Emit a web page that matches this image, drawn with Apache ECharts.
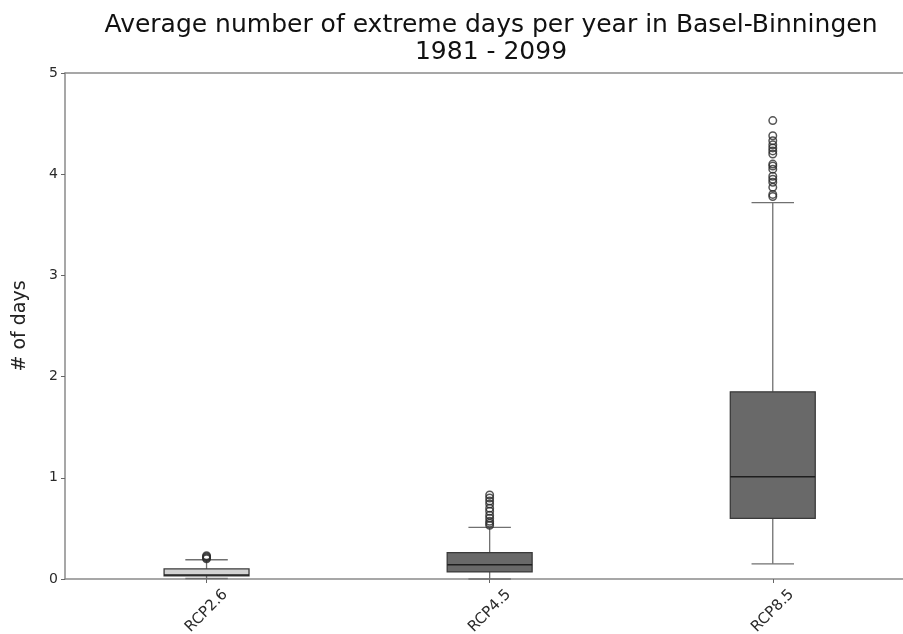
<!DOCTYPE html>
<html>
<head>
<meta charset="utf-8">
<script src="https://cdn.jsdelivr.net/npm/echarts@6/dist/echarts.min.js"></script>
<style>
  html, body { margin: 0; padding: 0; background: #fff; }
  #main { width: 903px; height: 634px; }
</style>
</head>
<body>
<div id="main"></div>
<script>
var myChart = echarts.init(document.getElementById('main'));

// scenarios on the x axis (positions 1, 2, 3)
const scenarios = ['RCP2.6', 'RCP4.5', 'RCP8.5'];
const positions = [1, 2, 3];

// box stats per scenario: [lower whisker, Q1, median, Q3, upper whisker]
const boxStats = [
    [0.005, 0.03, 0.04, 0.10, 0.19],
    [0.0, 0.07, 0.14, 0.26, 0.51],
    [0.15, 0.60, 1.01, 1.85, 3.72]
];

// outliers (fliers) per scenario
const outliers26 = [0.20, 0.21, 0.22, 0.23];
const outliers45 = [0.53, 0.55, 0.57, 0.60, 0.63, 0.67, 0.70, 0.74, 0.77, 0.80, 0.83];
const outliers85 = [3.78, 3.80, 3.87, 3.92, 3.95, 3.98, 4.05, 4.08, 4.10, 4.20, 4.23, 4.26, 4.29, 4.33, 4.38, 4.53];

const boxColors = ['#d3d3d3', '#696969', '#696969'];

const yTicks = [0, 1, 2, 3, 4, 5];

const boxData = boxStats.map(function (s, i) {
    return [positions[i]].concat(s);
});

const flierData = [];
[outliers26, outliers45, outliers85].forEach(function (arr, i) {
    arr.forEach(function (v) { flierData.push([positions[i], v]); });
});

function renderBox(params, api) {
    const pos = api.value(0);
    const low = api.coord([pos, api.value(1)]);
    const q1 = api.coord([pos, api.value(2)]);
    const med = api.coord([pos, api.value(3)]);
    const q3 = api.coord([pos, api.value(4)]);
    const high = api.coord([pos, api.value(5)]);
    const half = api.size([1, 0])[0] * 0.15;
    const cap = half / 2;
    const x = low[0];
    const whisker = { stroke: '#707070', lineWidth: 1.3 };
    return {
        type: 'group',
        children: [
            { type: 'line', shape: { x1: x, y1: q1[1], x2: x, y2: low[1] }, style: whisker },
            { type: 'line', shape: { x1: x, y1: q3[1], x2: x, y2: high[1] }, style: whisker },
            { type: 'line', shape: { x1: x - cap, y1: low[1], x2: x + cap, y2: low[1] }, style: whisker },
            { type: 'line', shape: { x1: x - cap, y1: high[1], x2: x + cap, y2: high[1] }, style: whisker },
            {
                type: 'rect',
                shape: { x: x - half, y: q3[1], width: half * 2, height: q1[1] - q3[1] },
                style: { fill: boxColors[pos - 1], stroke: '#3a3a3a', lineWidth: 1.3 }
            },
            { type: 'line', shape: { x1: x - half, y1: med[1], x2: x + half, y2: med[1] }, style: { stroke: '#1e1e1e', lineWidth: 1.5 } }
        ]
    };
}

const spine = { show: true, lineStyle: { color: '#8a8a8a', width: 1.5 } };

const option = {
    backgroundColor: '#ffffff',
    textStyle: { fontFamily: 'DejaVu Sans' },
    title: {
        text: 'Average number of extreme days per year in Basel-Binningen\n1981 - 2099',
        left: 486,
        top: 7,
        textAlign: 'center',
        textStyle: {
            fontFamily: 'DejaVu Sans',
            fontSize: 25,
            fontWeight: 'normal',
            color: '#111',
            lineHeight: 27
        }
    },
    grid: {
        left: 65,
        right: 0,
        top: 73,
        bottom: 55,
        outerBoundsMode: 'none',
        containLabel: false
    },
    xAxis: [
        {
            type: 'value',
            min: 0.5,
            max: 3.46,
            axisLine: spine,
            axisTick: { show: true, length: 4, customValues: positions, lineStyle: { color: '#666' } },
            axisLabel: {
                rotate: 45, fontSize: 15, color: '#2a2a2a', margin: 32, fontFamily: 'DejaVu Sans',
                align: 'center', verticalAlign: 'middle',
                customValues: positions,
                formatter: function (v) { return scenarios[Math.round(v) - 1] || ''; }
            },
            splitLine: { show: false }
        },
        {
            type: 'value',
            position: 'top',
            min: 0.5,
            max: 3.46,
            axisLine: spine,
            axisTick: { show: false },
            axisLabel: { show: false },
            splitLine: { show: false }
        }
    ],
    yAxis: {
        type: 'value',
        min: 0,
        max: 5,
        interval: 1,
        name: '# of days',
        nameLocation: 'middle',
        nameGap: 35,
        nameTextStyle: { fontSize: 19, color: '#222', fontFamily: 'DejaVu Sans' },
        axisLine: spine,
        axisTick: { show: true, length: 4, lineStyle: { color: '#666' } },
        axisLabel: {
            fontSize: 14, color: '#2a2a2a', margin: 7, fontFamily: 'DejaVu Sans',
            formatter: function (v) { return yTicks.indexOf(v) >= 0 ? String(v) : ''; }
        },
        splitLine: { show: false }
    },
    series: [
        {
            type: 'custom',
            renderItem: renderBox,
            data: boxData,
            encode: { x: 0, y: [1, 2, 3, 4, 5] },
            z: 2
        },
        {
            type: 'scatter',
            data: flierData,
            symbol: 'circle',
            symbolSize: 7.5,
            itemStyle: { color: 'rgba(0,0,0,0)', borderColor: '#2a2a2a', borderWidth: 1.5 },
            z: 3
        }
    ]
};

myChart.setOption(option);
</script>
</body>
</html>
